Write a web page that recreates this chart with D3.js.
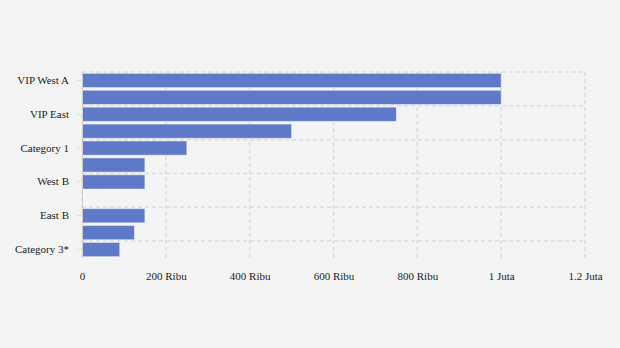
<!DOCTYPE html>
<html>
<head>
<meta charset="utf-8">
<script src="https://cdn.jsdelivr.net/npm/d3@7"></script>
<style>
  html, body { margin: 0; padding: 0; background: #f4f4f4; }
  svg { display: block; }
  text { font-family: "Liberation Serif", "Times New Roman", serif; font-size: 11px; fill: #222; }
</style>
</head>
<body>
<svg id="chart" width="620" height="348"></svg>
<script>
// Ticket categories, top to bottom
const categories = [
  "VIP West A", "VIP West B", "VIP East", "VIP North",
  "Category 1", "Category 2", "West B", "West A",
  "East B", "East A", "Category 3*"
];
// Ticket price (IDR)
const prices = [
  1000000, 1000000, 750000, 500000,
  250000, 150000, 150000, 0,
  150000, 125000, 90000
];
// Value axis ticks
const xTicks = [0, 200000, 400000, 600000, 800000, 1000000, 1200000];

const width = 620, height = 348;
const margin = { top: 72, right: 35, bottom: 90, left: 82 };

const svg = d3.select("#chart");

const x = d3.scaleLinear()
  .domain([0, 1200000])
  .range([margin.left, width - margin.right]);

const y = d3.scaleBand()
  .domain(categories)
  .range([margin.top, height - margin.bottom])
  .paddingInner(0.16)
  .paddingOuter(0.08);

const fmt = v => {
  if (v === 0) return "0";
  if (v >= 1000000) return d3.format("~g")(v / 1000000) + " Juta";
  return d3.format("~g")(v / 1000) + " Ribu";
};

const gridColor = "#dcdcdc";
const plotTop = margin.top, plotBottom = height - margin.bottom;

// horizontal grid lines on every second category boundary
const shown = categories.filter((d, i) => i % 2 === 0);
const boundary = d => categories.indexOf(d) === 0
  ? plotTop
  : y(d) - y.step() * y.paddingInner() / 2;
svg.append("g")
  .selectAll("line")
  .data(shown)
  .join("line")
  .attr("x1", x(0))
  .attr("x2", x(1200000))
  .attr("y1", boundary)
  .attr("y2", boundary)
  .attr("stroke", gridColor)
  .attr("stroke-width", 1.5)
  .attr("stroke-dasharray", "4,3");

// vertical grid lines at value ticks
svg.append("g")
  .selectAll("line")
  .data(xTicks)
  .join("line")
  .attr("x1", d => x(d))
  .attr("x2", d => x(d))
  .attr("y1", plotTop)
  .attr("y2", plotBottom)
  .attr("stroke", gridColor)
  .attr("stroke-width", 1.5)
  .attr("stroke-dasharray", "4,3");

// bars
svg.append("g")
  .selectAll("rect")
  .data(categories.map((c, i) => ({ c, v: prices[i] })).filter(d => d.v > 0))
  .join("rect")
  .attr("x", x(0))
  .attr("y", d => y(d.c))
  .attr("width", d => x(d.v) - x(0))
  .attr("height", y.bandwidth())
  .attr("fill", "#5f79c9")
  .attr("stroke", "rgba(255,255,255,0.45)")
  .attr("stroke-width", 1);

// category axis
const yAxis = d3.axisLeft(y)
  .tickValues(shown)
  .tickSize(5)
  .tickPadding(8);
const gy = svg.append("g")
  .attr("transform", `translate(${x(0)},0)`)
  .call(yAxis);
gy.select(".domain")
  .attr("d", `M0.5,${plotTop}V${plotBottom}`)
  .attr("stroke", "#cfcfcf")
  .attr("stroke-width", 1);
gy.selectAll(".tick line").attr("stroke", "#dedede");
gy.selectAll(".tick text")
  .style("font-family", "'Liberation Serif', serif")
  .style("font-size", "11px")
  .attr("fill", "#222");

// value axis labels
const xAxis = d3.axisBottom(x)
  .tickValues(xTicks)
  .tickFormat(fmt)
  .tickSize(0)
  .tickPadding(14);
const gx = svg.append("g")
  .attr("transform", `translate(0,${plotBottom})`)
  .call(xAxis);
gx.select(".domain").remove();
gx.selectAll(".tick text")
  .style("font-family", "'Liberation Serif', serif")
  .style("font-size", "11px")
  .attr("fill", "#222");
</script>
</body>
</html>
